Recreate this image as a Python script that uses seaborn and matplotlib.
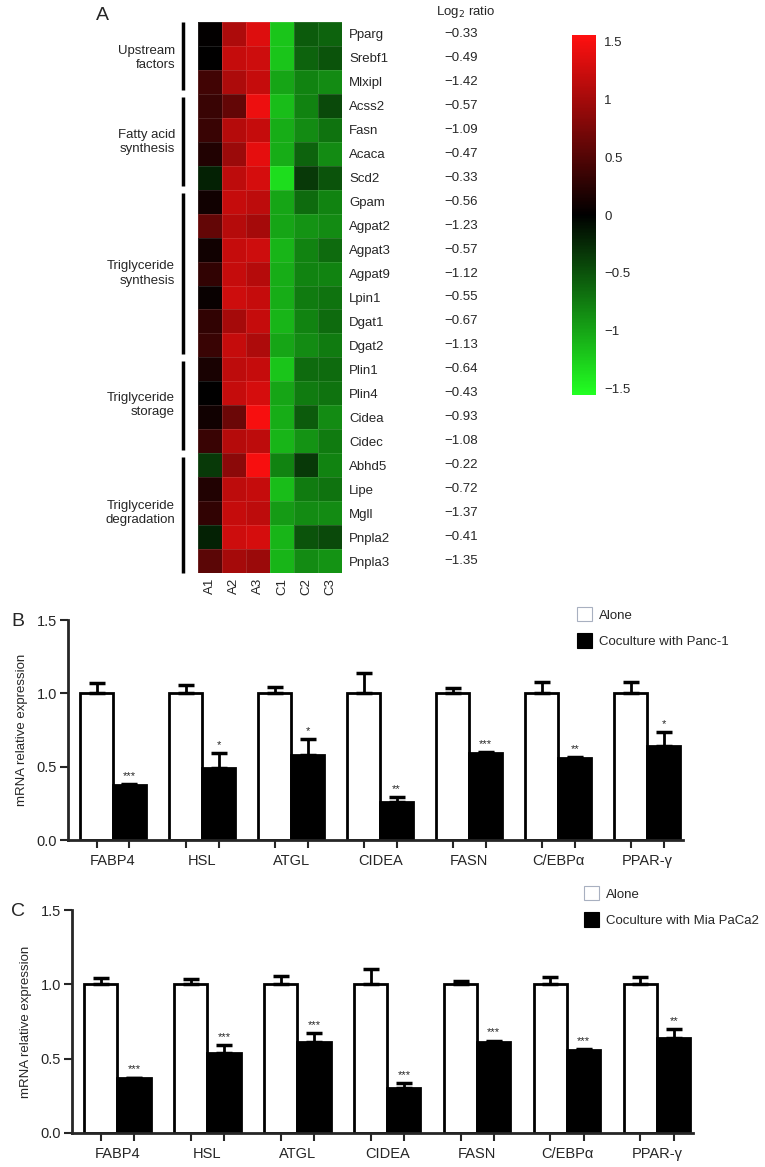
import numpy as np
import pandas as pd
import matplotlib
matplotlib.use('Agg')
import matplotlib.pyplot as plt
import seaborn as sns
from matplotlib.colors import LinearSegmentedColormap
from matplotlib.transforms import blended_transform_factory
from matplotlib.patches import Patch
from matplotlib.lines import Line2D

# ---------------- data ----------------
genes = ['Pparg', 'Srebf1', 'Mlxipl', 'Acss2', 'Fasn', 'Acaca', 'Scd2',
         'Gpam', 'Agpat2', 'Agpat3', 'Agpat9', 'Lpin1', 'Dgat1', 'Dgat2',
         'Plin1', 'Plin4', 'Cidea', 'Cidec',
         'Abhd5', 'Lipe', 'Mgll', 'Pnpla2', 'Pnpla3']
samples = ['A1', 'A2', 'A3', 'C1', 'C2', 'C3']
heat_values = [
    [0.02, 1.05, 1.35, -1.20, -0.55, -0.60],
    [0.00, 1.20, 1.25, -1.20, -0.60, -0.50],
    [0.40, 1.05, 1.20, -1.00, -0.80, -0.85],
    [0.35, 0.60, 1.45, -1.15, -0.80, -0.45],
    [0.35, 1.10, 1.20, -1.05, -0.85, -0.70],
    [0.20, 0.95, 1.40, -1.05, -0.60, -0.85],
    [-0.20, 1.15, 1.30, -1.35, -0.35, -0.50],
    [0.10, 1.20, 1.15, -1.00, -0.65, -0.80],
    [0.60, 1.10, 1.00, -1.00, -0.90, -0.85],
    [0.10, 1.20, 1.25, -1.10, -0.80, -0.65],
    [0.30, 1.20, 1.10, -1.05, -0.80, -0.80],
    [0.05, 1.25, 1.20, -1.05, -0.75, -0.70],
    [0.30, 1.00, 1.20, -1.10, -0.80, -0.65],
    [0.35, 1.20, 1.05, -1.00, -0.85, -0.75],
    [0.15, 1.15, 1.20, -1.20, -0.65, -0.65],
    [0.00, 1.20, 1.30, -1.00, -0.75, -0.70],
    [0.10, 0.65, 1.50, -1.05, -0.55, -0.85],
    [0.35, 1.10, 1.15, -1.10, -0.90, -0.75],
    [-0.35, 0.85, 1.50, -0.80, -0.35, -0.80],
    [0.20, 1.15, 1.20, -1.15, -0.75, -0.70],
    [0.30, 1.20, 1.15, -0.95, -0.85, -0.85],
    [-0.20, 1.25, 1.30, -1.10, -0.50, -0.45],
    [0.55, 1.00, 0.95, -1.10, -0.85, -0.90],
]
log2_ratio = ['\u22120.33', '\u22120.49', '\u22121.42', '\u22120.57', '\u22121.09', '\u22120.47',
              '\u22120.33', '\u22120.56', '\u22121.23', '\u22120.57', '\u22121.12', '\u22120.55',
              '\u22120.67', '\u22121.13', '\u22120.64', '\u22120.43', '\u22120.93', '\u22121.08',
              '\u22120.22', '\u22120.72', '\u22121.37', '\u22120.41', '\u22121.35']
group_names = ['Upstream\nfactors', 'Fatty acid\nsynthesis', 'Triglyceride\nsynthesis',
               'Triglyceride\nstorage', 'Triglyceride\ndegradation']
group_sizes = [3, 4, 7, 4, 5]
cbar_ticks = [-1.5, -1, -0.5, 0, 0.5, 1, 1.5]
cbar_labels = ['\u22121.5', '\u22121', '\u22120.5', '0', '0.5', '1', '1.5']

bar_genes = ['FABP4', 'HSL', 'ATGL', 'CIDEA', 'FASN', 'C/EBP\u03b1', 'PPAR-\u03b3']
y_ticks = [0.0, 0.5, 1.0, 1.5]

b_alone = [1.0, 1.0, 1.0, 1.0, 1.0, 1.0, 1.0]
b_alone_err = [0.07, 0.06, 0.045, 0.14, 0.035, 0.08, 0.08]
b_co = [0.375, 0.49, 0.58, 0.26, 0.595, 0.56, 0.64]
b_co_err = [0.005, 0.10, 0.11, 0.035, 0.006, 0.007, 0.095]
b_sig = ['***', '*', '*', '**', '***', '**', '*']
b_label = 'Coculture with Panc-1'

c_alone = [1.0, 1.0, 1.0, 1.0, 1.0, 1.0, 1.0]
c_alone_err = [0.045, 0.035, 0.055, 0.10, 0.025, 0.05, 0.05]
c_co = [0.37, 0.54, 0.615, 0.305, 0.612, 0.558, 0.638]
c_co_err = [0.003, 0.05, 0.06, 0.032, 0.01, 0.004, 0.06]
c_sig = ['***', '***', '***', '***', '***', '***', '**']
c_label = 'Coculture with Mia PaCa2'

# ---------------- style ----------------
sns.set_style('white')
plt.rcParams['font.family'] = ['Liberation Sans', 'DejaVu Sans']
NARROW = ['Liberation Sans Narrow', 'Liberation Sans', 'DejaVu Sans']

W, H = 765, 1167
fig = plt.figure(figsize=(W / 100, H / 100), dpi=100)


def fx(px):
    return px / W


def fy(py):
    return 1 - py / H


# ---------------- panel A: heatmap ----------------
cmap = LinearSegmentedColormap.from_list('gbr', ['#22ff22', '#000000', '#ff1010'])
hm = pd.DataFrame(heat_values, index=genes, columns=samples)
ax = fig.add_axes([fx(198), fy(573), fx(342) - fx(198), fy(22) - fy(573)])
cax = fig.add_axes([fx(572), fy(395), fx(596) - fx(572), fy(35) - fy(395)])
sns.heatmap(hm, ax=ax, cmap=cmap, vmin=-1.56, vmax=1.56, cbar_ax=cax,
            linewidths=0.6, linecolor=(1, 1, 1, 0.12))
ax.yaxis.tick_right()
ax.set_yticks(np.arange(len(genes)) + 0.5)
ax.set_yticklabels(genes, rotation=0, fontsize=9.5)
ax.set_xticklabels(samples, rotation=90, fontsize=9.5)
ax.tick_params(axis='both', length=0)
ax.tick_params(axis='y', pad=5)
ax.set_xlabel('')
ax.set_ylabel('')

cax.set_yticks(cbar_ticks)
cax.set_yticklabels(cbar_labels, fontsize=9.5)
cax.tick_params(length=0, pad=6)
for s in cax.spines.values():
    s.set_visible(False)

tr = blended_transform_factory(fig.transFigure, ax.transData)
for i, v in enumerate(log2_ratio):
    ax.text(fx(478), i + 0.5, v, transform=tr, ha='right', va='center', fontsize=9.5)
fig.text(fx(466), fy(12), 'Log$_2$ ratio', ha='center', va='center', fontsize=9.5)
fig.text(fx(102), fy(16), 'A', ha='center', va='center', fontsize=14)

start = 0
n_rows = len(genes)
for name, size in zip(group_names, group_sizes):
    end = start + size
    y0 = start + (0.15 if start > 0 else 0)
    y1 = end - (0.15 if end < n_rows else 0)
    ax.add_line(Line2D([fx(183), fx(183)], [y0, y1], transform=tr, color='black',
                       lw=2.5, clip_on=False, solid_capstyle='butt'))
    ax.text(fx(175), (start + end) / 2, name, transform=tr, ha='right', va='center',
            multialignment='right', fontsize=9.5, linespacing=1.25)
    start = end


# ---------------- panels B and C: bar charts ----------------
def bar_panel(rect, alone, alone_err, co, co_err, sig, co_label, letter, letter_xy, leg_xy):
    axb = fig.add_axes(rect)
    df = pd.DataFrame({
        'gene': bar_genes * 2,
        'value': list(alone) + list(co),
        'cond': ['Alone'] * len(bar_genes) + [co_label] * len(bar_genes),
    })
    sns.barplot(data=df, x='gene', y='value', hue='cond', palette=['white', 'black'],
                edgecolor='black', linewidth=2, width=0.74, errorbar=None,
                legend=False, saturation=1, ax=axb)
    n = len(bar_genes)
    patches = axb.patches[:2 * n]
    xs_alone = [p.get_x() + p.get_width() / 2 for p in patches[:n]]
    xs_co = [p.get_x() + p.get_width() / 2 for p in patches[n:2 * n]]
    hs_alone = [p.get_height() for p in patches[:n]]
    hs_co = [p.get_height() for p in patches[n:2 * n]]
    for xs, hs, er in [(xs_alone, hs_alone, alone_err), (xs_co, hs_co, co_err)]:
        axb.errorbar(xs, hs, yerr=[np.zeros(n), er], fmt='none', ecolor='black',
                     elinewidth=2, capsize=6, capthick=2.5, zorder=1)
    for x, h, e, s in zip(xs_co, hs_co, co_err, sig):
        axb.text(x, h + e + 0.02, s, ha='center', va='bottom', fontsize=8)
    axb.set_xlim(-0.505, 6.4)
    axb.set_ylim(0, 1.5)
    axb.set_xticks(sorted(xs_alone + xs_co))
    axb.set_xticklabels([''] * (2 * n))
    axb.set_xticks(range(n), bar_genes, minor=True)
    for lab in axb.get_xticklabels(minor=True):
        lab.set_family(NARROW)
    axb.tick_params(axis='x', which='major', length=6, width=1.5, direction='out', bottom=True)
    axb.tick_params(axis='x', which='minor', length=0, pad=10, labelsize=10.5, bottom=True)
    axb.set_yticks(y_ticks)
    axb.set_yticklabels(['0.0', '0.5', '1.0', '1.5'], family=NARROW)
    axb.tick_params(axis='y', length=6, width=1.5, direction='out', labelsize=10.5, left=True, pad=2)
    axb.set_xlabel('')
    axb.set_ylabel('mRNA relative expression', fontsize=9.5, labelpad=6)
    sns.despine(ax=axb)
    for s in ['left', 'bottom']:
        axb.spines[s].set_linewidth(2)
    fig.text(letter_xy[0], letter_xy[1], letter, ha='center', va='center', fontsize=14)
    handles = [Patch(facecolor='white', edgecolor='#a8b0c0', lw=0.8),
               Patch(facecolor='black', edgecolor='black', lw=0.8)]
    fig.legend(handles, ['Alone', co_label], loc='upper left', bbox_to_anchor=leg_xy,
               frameon=False, fontsize=9.5, handlelength=1.1, handleheight=1.3,
               labelspacing=0.9, handletextpad=0.6, borderpad=0, borderaxespad=0)
    return axb


bar_panel([fx(68), fy(840), fx(683) - fx(68), fy(620) - fy(840)],
          b_alone, b_alone_err, b_co, b_co_err, b_sig, b_label,
          'B', (fx(18), fy(622)), (fx(577), fy(607)))
bar_panel([fx(72), fy(1133), fx(693) - fx(72), fy(910) - fy(1133)],
          c_alone, c_alone_err, c_co, c_co_err, c_sig, c_label,
          'C', (fx(18), fy(912)), (fx(584), fy(886)))

fig.savefig('out.png', dpi=100)
